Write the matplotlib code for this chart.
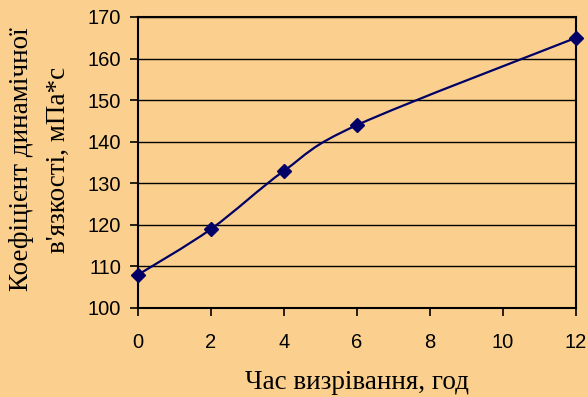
import matplotlib.pyplot as plt
from matplotlib.path import Path
from matplotlib.patches import PathPatch

hours = [0, 2, 4, 6, 12]
viscosity = [108, 119, 133, 144, 165]

bg = "#FBD08F"
line_col = "#000066"

fig = plt.figure(figsize=(5.88, 3.97), dpi=100, facecolor=bg)
ax = fig.add_axes([0.2347, 0.2242, 0.7449, 0.733])
ax.set_facecolor(bg)

# smooth curve through the points (cubic Bezier, Catmull-Rom style control points)
pts = list(zip(hours, viscosity))
verts = [pts[0]]
codes = [Path.MOVETO]
n = len(pts)
for i in range(n - 1):
    p0 = pts[i - 1] if i > 0 else pts[i]
    p1 = pts[i]
    p2 = pts[i + 1]
    p3 = pts[i + 2] if i + 2 < n else pts[i + 1]
    c1 = (p1[0] + (p2[0] - p0[0]) / 6, p1[1] + (p2[1] - p0[1]) / 6)
    c2 = (p2[0] - (p3[0] - p1[0]) / 6, p2[1] - (p3[1] - p1[1]) / 6)
    verts += [c1, c2, p2]
    codes += [Path.CURVE4] * 3
ax.add_patch(PathPatch(Path(verts, codes), facecolor="none",
                       edgecolor=line_col, lw=1.6, zorder=3))
ax.plot(hours, viscosity, ls="none", marker="D", ms=7, color=line_col,
        zorder=4, clip_on=False)

ax.set_xlim(0, 12)
ax.set_ylim(100, 170)
ax.set_xticks(range(0, 13, 2))
ax.set_yticks(range(100, 171, 10))
ax.yaxis.grid(True, color="black", lw=1)
ax.set_axisbelow(True)
for s in ax.spines.values():
    s.set_color("black")
    s.set_linewidth(1.5)
ax.tick_params(axis="both", direction="out", length=6, width=1.2,
               labelsize=14.5, colors="black")
ax.tick_params(axis="x", pad=12)
ax.tick_params(axis="y", pad=6)
for lab in ax.get_xticklabels() + ax.get_yticklabels():
    lab.set_family("Liberation Sans")

ax.set_xlabel("Час визрівання, год", family="Liberation Serif",
              fontsize=19.5, labelpad=13)

fig.text(0.037, (397 - 291) / 397, "Коефіцієнт динамічної",
         rotation=90, ha="center", va="bottom",
         family="Liberation Serif", fontsize=19.5)
fig.text(0.100, (397 - 160) / 397, "в'язкості, мПа*с",
         rotation=90, ha="center", va="center",
         family="Liberation Serif", fontsize=19.5)

fig.savefig("out.png", dpi=100, facecolor=bg)
